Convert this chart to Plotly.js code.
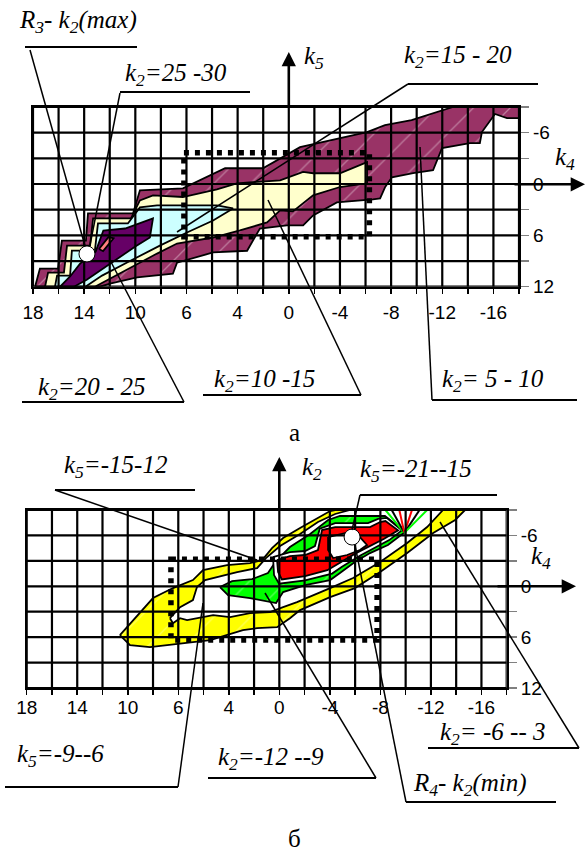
<!DOCTYPE html>
<html>
<head>
<meta charset="utf-8">
<script src="https://cdn.plot.ly/plotly-3.0.1.min.js"></script>
<style>
  html, body { margin: 0; padding: 0; background: #ffffff; }
  #chart { width: 586px; height: 854px; }
</style>
</head>
<body>
<div id="chart"></div>
<script>
// ---------- grid: columns and the values printed under them ----------
const gridCols  = [0,1,2,3,4,5,6,7,8,9,10,11,12,13,14,15,16,17,18,19];
const colLabels = ['18','','14','','10','','6','','4','','0','','-4','','-8','','-12','','-16',''];
const k4Rows    = [-9,-6,-3,0,3,6,9,12];
const k4Labels  = ['','-6','','0','','6','','12'];

// ---------- panel а : k2 zones (column, k4) ----------
const a_k2_5_10_col = [0.08,0.27,0.98,1.13,2.07,2.15,3.91,4.18,5.86,7.51,8.99,10.44,13.06,13.76,14.8,15.72,16.42,19,19,18.53,18.06,17.55,17.47,17.08,15.99,15.64,14.86,14.03,13.76,13.57,13.29,11.88,11.29,10.95,10.56,9.92,8.87,8.6,8.37,7.04,5.63,5.47,4.07,3.01,2.62];
const a_k2_5_10_k4  = [12,9.89,9.89,6.61,6.61,3.44,3.44,0.74,0.5,-1.84,-1.84,-4.31,-6.07,-6.89,-7.47,-8.3,-9,-9,-7.71,-7.71,-8.18,-6.07,-4.78,-4.78,-4.19,-1.61,-1.26,-0.79,0.39,1.68,1.79,2.15,3.08,3.67,4.84,4.84,5.2,6.61,7.8,8.0,9.19,10.48,10.9,11.65,12];

const a_k2_10_15_col = [0.47,0.59,1.21,1.33,2.23,2.35,3.83,4.18,4.69,5.86,7.19,7.97,9.66,10.56,10.95,12.0,13.06,13.06,12.0,10.95,10.16,9.66,9.15,8.09,7.04,5.63,4.85,4.18,3.4,2.81,2.42];
const a_k2_10_15_k4  = [12,10.36,10.36,7.19,7.19,4.02,4.02,1.91,1.33,1.52,0.62,-0.08,-0.43,-1.41,-1.26,-1.26,-2.55,-0.08,0.35,1.33,3.2,3.08,4.49,5.43,6.25,6.96,8.13,9.19,10.36,11.3,12];

const a_k2_15_20_col = [0.86,0.94,1.45,1.52,2.42,2.54,3.71,4.18,4.85,6.02,7.19,7.82,7.04,6.02,4.96,3.79,2.7,2.05];
const a_k2_15_20_k4  = [12,10.71,10.71,7.78,7.78,4.61,4.61,2.73,2.5,2.5,2.5,2.85,4.26,5.67,7.2,9.0,10.7,12];

const a_k2_20_25_col = [1.06,1.45,1.84,2.45,2.75,3.6,4.69,4.57,4.0,3.4,2.75,2.1,1.6];
const a_k2_20_25_k4  = [12,10.8,9.3,7.9,5.43,5.2,4.02,6.25,7.3,8.55,9.9,11.2,12];

const a_k2_25_30_col = [2.58,2.95,3.15,2.74];
const a_k2_25_30_k4  = [7.6,6.2,6.35,7.85];

const a_R3_col = [2.11];
const a_R3_k4  = [8.17];

// dashed frame: column from, column to, k4 from, k4 to
const a_frame = [5.9, 13.15, -3.65, 6.15];

// ---------- panel б : k5 zones (column, k4) ----------
const b_k5_9_6_col = [3.69,3.97,4.41,5.0,5.79,6.58,6.98,7.93,8.84,9.32,9.71,10.15,10.82,11.53,12.01,12.21,17.35,16.96,16.09,15.06,13.99,12.99,12.01,10.82,10.42,9.91,9.12,8.56,7.26,4.88,4.09];
const b_k5_9_6_k4  = [5.76,4.82,3.40,1.39,0.21,-0.73,-1.91,-2.50,-2.74,-3.09,-4.51,-5.69,-6.87,-8.06,-8.88,-9,-9,-7.82,-6.28,-3.92,-1.68,0.21,1.28,2.81,3.76,4.82,4.94,5.17,6.35,7.18,6.94];

const b_gap1_col = [5.67,6.07,6.58,6.74,7.06,7.53,8.33,9.12,9.47,10.03,10.82,11.53,12.21,12.80,16.48,15.85,15.06,13.99,12.92,12.01,10.70,10.15,9.63,8.84,8.05,7.38,6.74,6.35,6.07,5.79];
const b_gap1_k4  = [3.76,2.46,1.63,0.09,-0.73,-1.09,-1.68,-2.15,-3.33,-4.75,-6.17,-7.58,-8.53,-9,-9,-6.99,-5.10,-2.86,-0.97,0.21,1.87,2.46,3.05,3.17,3.64,3.40,3.76,3.99,3.76,4.35];

const b_k2_12_9_col = [7.65,8.13,8.92,9.55,9.87,10.42,11.22,11.93,12.40,14.18,14.98,14.30,13.59,12.99,12.40,12.01,11.02,10.15,9.87,8.84,7.97];
const b_k2_12_9_k4  = [0.09,-0.61,-0.85,-1.56,-2.98,-4.63,-6.17,-7.82,-8.29,-8.29,-6.40,-4.87,-3.92,-2.86,-1.56,-0.73,-0.14,0.69,1.98,1.39,1.04];

const b_gap2_col = [9.75,10.42,11.02,11.41,11.6,12.21,13.51,13.91,14.26,14.85,14.35,13.9,13.19,12.48,12.09,11.02,9.99,9.79];
const b_gap2_k4  = [-3.45,-4.04,-4.16,-4.75,-6.8,-7.46,-7.46,-7.94,-8.06,-6.6,-5.45,-4.75,-3.6,-2.3,-1.5,-0.7,-0.3,-1.32];

const b_k5_21_15_col = [9.91,10.42,11.02,11.53,11.69,12.21,13.59,13.99,14.2,14.7,14.15,13.7,13.0,12.3,11.9,11.02,10.1,9.95];
const b_k5_21_15_k4  = [-3.09,-3.57,-3.69,-4.28,-6.64,-6.99,-6.99,-7.58,-7.7,-6.6,-5.6,-4.95,-3.85,-2.6,-1.9,-1.2,-0.8,-1.7];

const b_core_col = [11.93,12.60,13.19,13.47,13.19,12.68,12.13,11.93];
const b_core_k4  = [-5.81,-6.28,-5.81,-4.87,-4.28,-3.69,-3.33,-4.28];

const b_R4_col = [12.88];
const b_R4_k4  = [-5.81];

// contour lines bunching toward the upper edge
const b_fanTopCol = [14.2,14.45,14.75,15.25,15.55,15.85];
const b_fanMeet   = [14.95,-6.3];

const b_frame = [5.71, 13.87, -3.2, 6.35];

// ---------- page geometry ----------
const W = 586, H = 854;
const PX = v => v / W;
const PY = v => 1 - v / H;

function zone(col, k4, color, sub, hatch) {
  const t = {
    type: 'scatter', mode: 'lines', x: col.concat([col[0]]), y: k4.concat([k4[0]]),
    xaxis: 'x' + sub, yaxis: 'y' + sub, fill: 'toself', fillcolor: color,
    line: { color: '#000000', width: 1.8 }, hoverinfo: 'skip', showlegend: false
  };
  if (hatch) {
    t.fillpattern = { shape: '/', bgcolor: color, fgcolor: '#ffffff', fgopacity: 0.35, size: 26, solidity: 0.05 };
  }
  return t;
}

function grid(sub) {
  const xs = [], ys = [];
  gridCols.forEach(c => { xs.push(c, c, null); ys.push(k4Rows[0], k4Rows[k4Rows.length - 1], null); });
  k4Rows.forEach(r => { xs.push(gridCols[0], gridCols[gridCols.length - 1], null); ys.push(r, r, null); });
  return { type: 'scatter', mode: 'lines', x: xs, y: ys, xaxis: 'x' + sub, yaxis: 'y' + sub,
           line: { color: '#000000', width: 2.2 }, hoverinfo: 'skip', showlegend: false };
}

function dot(col, k4, sub) {
  return { type: 'scatter', mode: 'markers', x: col, y: k4, xaxis: 'x' + sub, yaxis: 'y' + sub,
           marker: { size: 16, color: '#ffffff', line: { color: '#000000', width: 1 } },
           hoverinfo: 'skip', showlegend: false, cliponaxis: false };
}

const fanColors = ['#00ff00', '#000000', '#ff0000', '#ff0000', '#000000', '#00ff00'];
const fanTraces = b_fanTopCol.map((c, i) => ({
  type: 'scatter', mode: 'lines', x: [c, b_fanMeet[0]], y: [k4Rows[0], b_fanMeet[1]],
  xaxis: 'x2', yaxis: 'y2', line: { color: fanColors[i], width: 2 }, hoverinfo: 'skip', showlegend: false
}));

const data = [
  zone(a_k2_5_10_col,  a_k2_5_10_k4,  '#993366', '', true),
  zone(a_k2_10_15_col, a_k2_10_15_k4, '#ffffcc', ''),
  zone(a_k2_15_20_col, a_k2_15_20_k4, '#ccffff', ''),
  zone(a_k2_20_25_col, a_k2_20_25_k4, '#660066', ''),
  zone(a_k2_25_30_col, a_k2_25_30_k4, '#ff8080', ''),
  grid(''),
  dot(a_R3_col, a_R3_k4, ''),

  zone(b_k5_9_6_col,   b_k5_9_6_k4,   '#ffff00', '2', true),
  zone(b_gap1_col,     b_gap1_k4,     '#ffffff', '2'),
  zone(b_k2_12_9_col,  b_k2_12_9_k4,  '#00ff00', '2', true),
  zone(b_gap2_col,     b_gap2_k4,     '#ffffff', '2'),
  zone(b_k5_21_15_col, b_k5_21_15_k4, '#ff0000', '2'),
  zone(b_core_col,     b_core_k4,     '#ffffff', '2'),
  ...fanTraces,
  grid('2'),
  dot(b_R4_col, b_R4_k4, '2')
];

const tickFont = { family: "'Liberation Sans', Arial, sans-serif", size: 19, color: '#000000' };

function xAxis(domain, anchor, standoff) {
  return {
    domain: domain, anchor: anchor, range: [gridCols[0], gridCols[gridCols.length - 1]],
    tickmode: 'array', tickvals: gridCols, ticktext: colLabels,
    ticks: 'outside', ticklen: 5, tickwidth: 1.5, tickcolor: '#000000',
    showgrid: false, zeroline: false, showline: true, mirror: true, linecolor: '#000000', linewidth: 2.2,
    tickfont: tickFont, ticklabelstandoff: standoff, fixedrange: true
  };
}
function yAxis(domain, anchor) {
  return {
    domain: domain, anchor: anchor, side: 'right', range: [k4Rows[k4Rows.length - 1], k4Rows[0]],
    tickmode: 'array', tickvals: k4Rows, ticktext: k4Labels,
    ticks: 'outside', ticklen: 8, tickwidth: 1.5, tickcolor: '#808080',
    showgrid: false, zeroline: false, showline: true, mirror: true, linecolor: '#000000', linewidth: 2.2,
    tickfont: tickFont, fixedrange: true
  };
}

// ---------- callouts: text, text position, underline, leader ----------
const callouts = [
  { t: '<i>R<sub>3</sub>- k<sub>2</sub>(max)</i>', at: [17, 21],  u: [25, 137, 47],  l: [30, 50, 85, 246] },
  { t: '<i>k<sub>2</sub>=25 -30</i>',              at: [123, 75], u: [120, 250, 92], l: [120, 93, 90, 245] },
  { t: '<i>k<sub>2</sub>=15 - 20</i>',             at: [402, 57], u: [408, 538, 84], l: [408, 84, 177, 232] },
  { t: '<i>k<sub>2</sub>=20 - 25</i>',             at: [36, 388], u: [22, 184, 402], l: [184, 402, 110, 260] },
  { t: '<i>k<sub>2</sub>=10 -15</i>',              at: [212, 381], u: [203, 361, 395], l: [361, 395, 268, 200] },
  { t: '<i>k<sub>2</sub>= 5 - 10</i>',             at: [440, 380], u: [432, 577, 400], l: [432, 400, 420, 147] },
  { t: '<i>k<sub>5</sub>=-15-12</i>',              at: [62, 466], u: [55, 195, 490],  l: [55, 490, 257, 560] },
  { t: '<i>k<sub>5</sub>=-21--15</i>',             at: [358, 471], u: [360, 497, 495], l: [360, 495, 352, 530] },
  { t: '<i>k<sub>5</sub>=-9--6</i>',               at: [15, 755], u: [5, 178, 787],   l: [178, 787, 203, 603] },
  { t: '<i>k<sub>2</sub>=-12 --9</i>',             at: [216, 758], u: [208, 376, 778], l: [376, 778, 265, 593] },
  { t: '<i>R<sub>4</sub>- k<sub>2</sub>(min)</i>', at: [411, 784], u: [406, 556, 802], l: [406, 802, 355, 545] },
  { t: '<i>k<sub>2</sub>= -6 -- 3</i>',            at: [438, 733], u: [428, 579, 748], l: [579, 748, 440, 522] }
];

const serif = { family: "'Liberation Serif', 'Times New Roman', serif", size: 25, color: '#000000' };

const shapes = [];
const annotations = [];

callouts.forEach(c => {
  annotations.push({ xref: 'paper', yref: 'paper', x: PX(c.at[0]), y: PY(c.at[1]), xanchor: 'left', yanchor: 'middle',
                     text: c.t, showarrow: false, font: serif });
  shapes.push({ type: 'line', xref: 'paper', yref: 'paper', x0: PX(c.u[0]), x1: PX(c.u[1]), y0: PY(c.u[2]), y1: PY(c.u[2]),
                line: { color: '#000000', width: 2 }, layer: 'above' });
  shapes.push({ type: 'line', xref: 'paper', yref: 'paper', x0: PX(c.l[0]), y0: PY(c.l[1]), x1: PX(c.l[2]), y1: PY(c.l[3]),
                line: { color: '#000000', width: 1.5 }, layer: 'above' });
});

// dashed frames
[[a_frame, ''], [b_frame, '2']].forEach(([f, sub]) => {
  shapes.push({ type: 'rect', xref: 'x' + sub, yref: 'y' + sub, x0: f[0], x1: f[1], y0: f[2], y1: f[3],
                line: { color: '#000000', width: 5.5, dash: '5px,6px' }, fillcolor: 'rgba(0,0,0,0)', layer: 'above' });
});

// axis arrows
const arrow = (x, y, ax, ay) => ({ xref: 'paper', yref: 'paper', x: PX(x), y: PY(y), ax: ax, ay: ay, text: '',
  showarrow: true, arrowhead: 2, arrowsize: 1.1, arrowwidth: 2.6, arrowcolor: '#000000' });
annotations.push(arrow(288.8, 52, 0, 55));
annotations.push(arrow(585, 184.3, -72, 0));
annotations.push(arrow(279.3, 457, 0, 53));
annotations.push(arrow(576, 586.3, -80, 0));

const axisName = (t, x, y) => ({ xref: 'paper', yref: 'paper', x: PX(x), y: PY(y), xanchor: 'left', yanchor: 'middle',
  text: t, showarrow: false, font: serif });
annotations.push(axisName('<i>k<sub>5</sub></i>', 302, 58));
annotations.push(axisName('<i>k<sub>4</sub></i>', 553, 158));
annotations.push(axisName('<i>k<sub>2</sub></i>', 300, 468));
annotations.push(axisName('<i>k<sub>4</sub></i>', 529, 557));

// panel captions
const caption = (t, y) => ({ xref: 'paper', yref: 'paper', x: PX(294), y: PY(y), xanchor: 'center', yanchor: 'middle',
  text: t, showarrow: false, font: { family: "'Liberation Serif', 'Times New Roman', serif", size: 25, color: '#000000' } });
annotations.push(caption('а', 432));
annotations.push(caption('б', 838));

const layout = {
  width: W, height: H, margin: { l: 0, r: 0, t: 0, b: 0 },
  paper_bgcolor: '#ffffff', plot_bgcolor: '#ffffff', showlegend: false,
  xaxis:  xAxis([33 / W, 519 / W], 'y', 2),
  yaxis:  yAxis([1 - 286.7 / H, 1 - 107 / H], 'x'),
  xaxis2: xAxis([26.7 / W, 506.7 / W], 'y2', -4),
  yaxis2: yAxis([1 - 688 / H, 1 - 510 / H], 'x2'),
  shapes: shapes,
  annotations: annotations
};

Plotly.newPlot('chart', data, layout, { staticPlot: true, displayModeBar: false });
</script>
</body>
</html>
